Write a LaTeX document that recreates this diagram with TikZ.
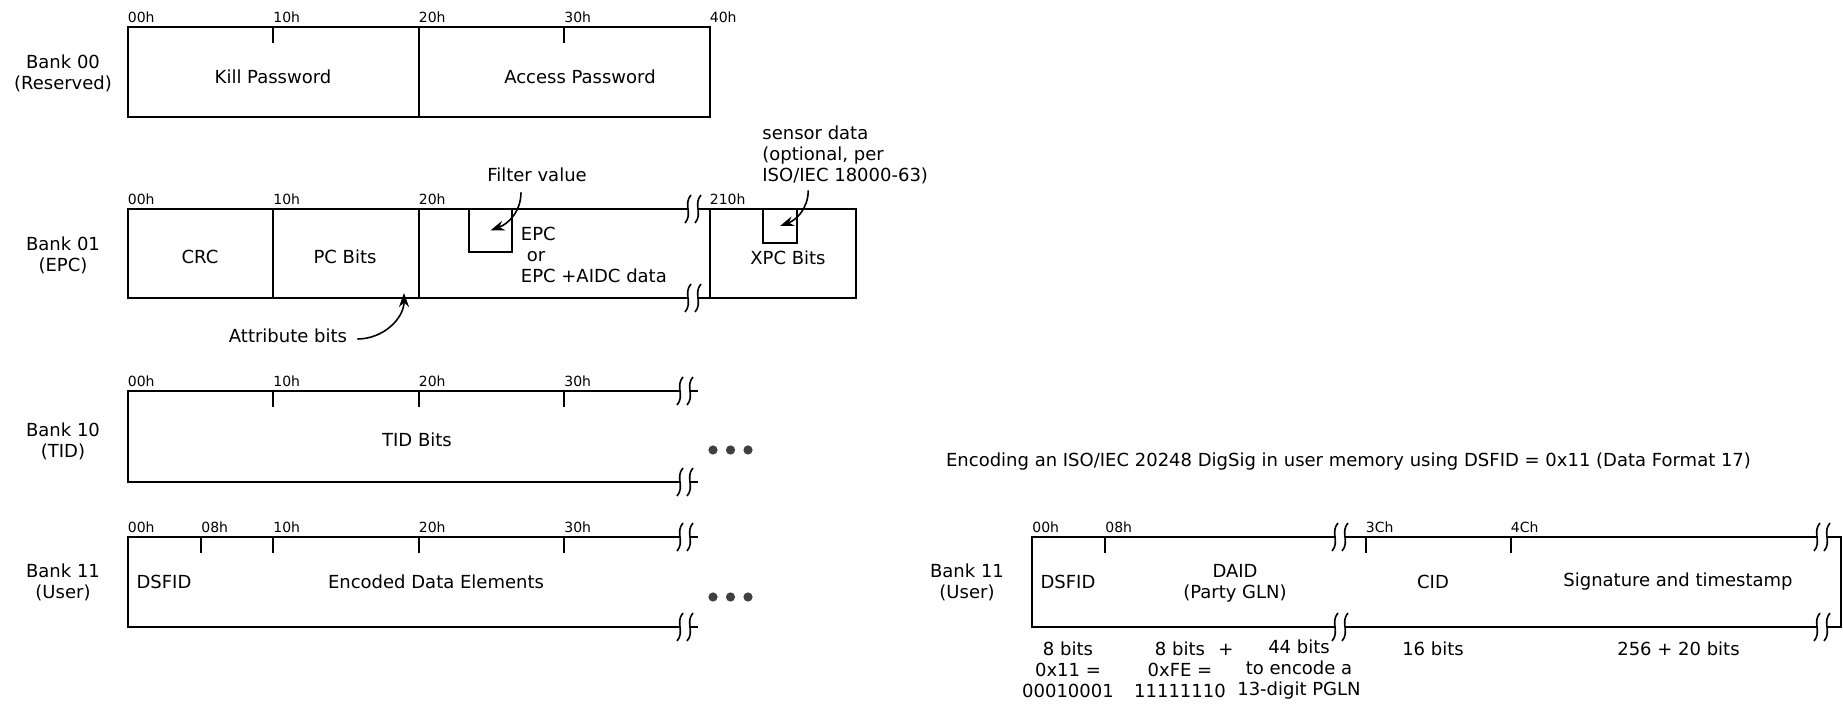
\documentclass[tikz,border=0pt]{standalone}
\usepackage{fontspec}
\setmainfont{DejaVu Sans}
\usetikzlibrary{arrows.meta}

\tikzset{
    cut/.pic={
        \draw[line width=0.8pt] (-2,14) .. controls (-10,5) and (0,-5) .. (-8,-14);
        \draw[line width=0.8pt] (8,14) .. controls (0,5) and (10,-5) .. (2,-14);
    }
}

\begin{document}
\begin{tikzpicture}[
    x=0.5pt,
    y=0.5pt,
    font=\fontsize{9}{10.5}\selectfont,
    >={Stealth[length=7pt,width=5pt]},
    mem/.style={
        line width=1pt
    },
    offs/.style={
        anchor=south west,
        inner sep=0pt,
        font=\fontsize{7}{8}\selectfont
    },
    bank/.style={
        align=center,
        inner sep=0pt
    },
    field/.style={
        align=center,
        inner sep=0pt
    },
    flag/.style={
        draw,
        line width=1pt,
        inner sep=0pt
    },
    dot/.style={
        circle,
        fill=black!75,
        minimum size=4.6pt,
        inner sep=0pt
    },
    arrow/.style={
        ->,
        line width=0.8pt
    }
]
\useasboundingbox (0,0) rectangle (1843,-704);

% Bank 00
\node[bank] (b00) at (63,-73) {Bank 00\\(Reserved)};
\draw[mem] (127.5,-27) rectangle (709.5,-117);
\draw[mem] (418.5,-27) -- (418.5,-117);
\draw[mem] (273,-27) -- (273,-43);
\draw[mem] (564,-27) -- (564,-43);
\node[offs] (t0a) at (127.5,-23) {00h};
\node[offs] (t0b) at (273,-23) {10h};
\node[offs] (t0c) at (418.5,-23) {20h};
\node[offs] (t0d) at (564,-23) {30h};
\node[offs] (t0e) at (709.5,-23) {40h};
\node[field] (kill) at (273,-77) {Kill Password};
\node[field] (access) at (580,-77) {Access Password};

% Bank 01
\node[bank] (b01) at (63,-255) {Bank 01\\(EPC)};
\draw[mem] (688,-209) -- (127.5,-209) -- (127.5,-298) -- (688,-298);
\draw[mem] (698,-209) -- (855.5,-209) -- (855.5,-298) -- (698,-298);
\draw[mem] (273,-209) -- (273,-298);
\draw[mem] (418.5,-209) -- (418.5,-298);
\draw[mem] (709.5,-209) -- (709.5,-298);
\pic at (693,-209) {cut};
\pic at (693,-298) {cut};
\node[offs] (t1a) at (127.5,-205) {00h};
\node[offs] (t1b) at (273,-205) {10h};
\node[offs] (t1c) at (418.5,-205) {20h};
\node[offs] (t1d) at (709.5,-205) {210h};
\node[field] (crc) at (200,-257) {CRC};
\node[field] (pc) at (345,-257) {PC Bits};
\node[anchor=west, align=left, inner sep=0pt] (epc) at (520.5,-255) {EPC\\\hspace{3pt}or\\EPC +AIDC data};
\node[field] (xpc) at (788,-258) {XPC Bits};
\node[flag, minimum width=21.5pt, minimum height=21.3pt] (fbox) at (490.5,-230.4) {};
\node[flag, minimum width=17pt, minimum height=17pt] (xbox) at (780,-226) {};

\node[field] (filt) at (537,-175) {Filter value};
\node[anchor=west, align=left, inner sep=0pt] (sens) at (762,-155) {sensor data\\(optional, per\\ISO/IEC 18000-63)};
\node[field] (attr) at (288,-336) {Attribute bits};
\coordinate (attrtip) at (404,-293);

\draw[arrow] ([xshift=-8pt,yshift=-5pt]filt.south) to[out=-90,in=20] (fbox.center);
\draw[arrow] ([xshift=-18.5pt,yshift=-3pt]sens.south) to[out=-90,in=20] (xbox.center);
\draw[arrow] ([xshift=5pt,yshift=-1.5pt]attr.east) to[out=0,in=-90] (attrtip);

% Bank 10
\node[bank] (b10) at (63,-441) {Bank 10\\(TID)};
\draw[mem] (680,-391) -- (127.5,-391) -- (127.5,-482) -- (680,-482);
\draw[mem] (690,-391) -- (698,-391);
\draw[mem] (690,-482) -- (698,-482);
\draw[mem] (273,-391) -- (273,-407);
\draw[mem] (418.5,-391) -- (418.5,-407);
\draw[mem] (564,-391) -- (564,-407);
\pic at (685,-391) {cut};
\pic at (685,-482) {cut};
\node[offs] (t2a) at (127.5,-387) {00h};
\node[offs] (t2b) at (273,-387) {10h};
\node[offs] (t2c) at (418.5,-387) {20h};
\node[offs] (t2d) at (564,-387) {30h};
\node[field] (tid) at (417,-440) {TID Bits};
\node[dot] (d2a) at (713,-450) {};
\node[dot] (d2b) at (730.5,-450) {};
\node[dot] (d2c) at (748,-450) {};

% Bank 11
\node[bank] (b11) at (63,-582) {Bank 11\\(User)};
\draw[mem] (680,-537) -- (127.5,-537) -- (127.5,-627) -- (680,-627);
\draw[mem] (690,-537) -- (698,-537);
\draw[mem] (690,-627) -- (698,-627);
\draw[mem] (201,-537) -- (201,-553);
\draw[mem] (273,-537) -- (273,-553);
\draw[mem] (418.5,-537) -- (418.5,-553);
\draw[mem] (564,-537) -- (564,-553);
\pic at (685,-537) {cut};
\pic at (685,-627) {cut};
\node[offs] (t3a) at (127.5,-533) {00h};
\node[offs] (t3b) at (201,-533) {08h};
\node[offs] (t3c) at (273,-533) {10h};
\node[offs] (t3d) at (418.5,-533) {20h};
\node[offs] (t3e) at (564,-533) {30h};
\node[field] (dsfid) at (164,-582) {DSFID};
\node[field] (enc) at (436,-582) {Encoded Data Elements};
\node[dot] (d3a) at (713,-597) {};
\node[dot] (d3b) at (730.5,-597) {};
\node[dot] (d3c) at (748,-597) {};

% DigSig in user memory
\node[field] (title) at (1348.5,-462) {Encoding an ISO/IEC 20248 DigSig in user memory using DSFID = 0x11 (Data Format 17)};
\node[bank] (b11r) at (967,-582) {Bank 11\\(User)};
\draw[mem] (1335,-537) -- (1032,-537) -- (1032,-627) -- (1335,-627);
\draw[mem] (1345,-537) -- (1817,-537);
\draw[mem] (1345,-627) -- (1817,-627);
\draw[mem] (1827,-537) -- (1841,-537) -- (1841,-627) -- (1827,-627);
\draw[mem] (1105,-537) -- (1105,-553);
\draw[mem] (1365.5,-537) -- (1365.5,-553);
\draw[mem] (1510.5,-537) -- (1510.5,-553);
\pic at (1340,-537) {cut};
\pic at (1340,-627) {cut};
\pic at (1822,-537) {cut};
\pic at (1822,-627) {cut};
\node[offs] (t4a) at (1032,-533) {00h};
\node[offs] (t4b) at (1105,-533) {08h};
\node[offs] (t4c) at (1365.5,-533) {3Ch};
\node[offs] (t4d) at (1510.5,-533) {4Ch};
\node[field] (dsfidr) at (1068,-582) {DSFID};
\node[field] (daid) at (1235,-583) {DAID\\(Party GLN)};
\node[field] (cid) at (1433,-582) {CID};
\node[field] (sig) at (1678,-582) {Signature and timestamp};

\node[field] (n1) at (1068,-670) {8 bits\\0x11 =\\00010001};
\node[field] (n2) at (1180,-670) {8 bits\\0xFE =\\11111110};
\node[field] (plus) at (1226,-650) {+};
\node[field] (n3) at (1299,-670) {44 bits\\to encode a\\13-digit PGLN};
\node[field] (n4) at (1433,-649) {16 bits};
\node[field] (n5) at (1678.5,-649) {256 + 20 bits};

\end{tikzpicture}
\end{document}
